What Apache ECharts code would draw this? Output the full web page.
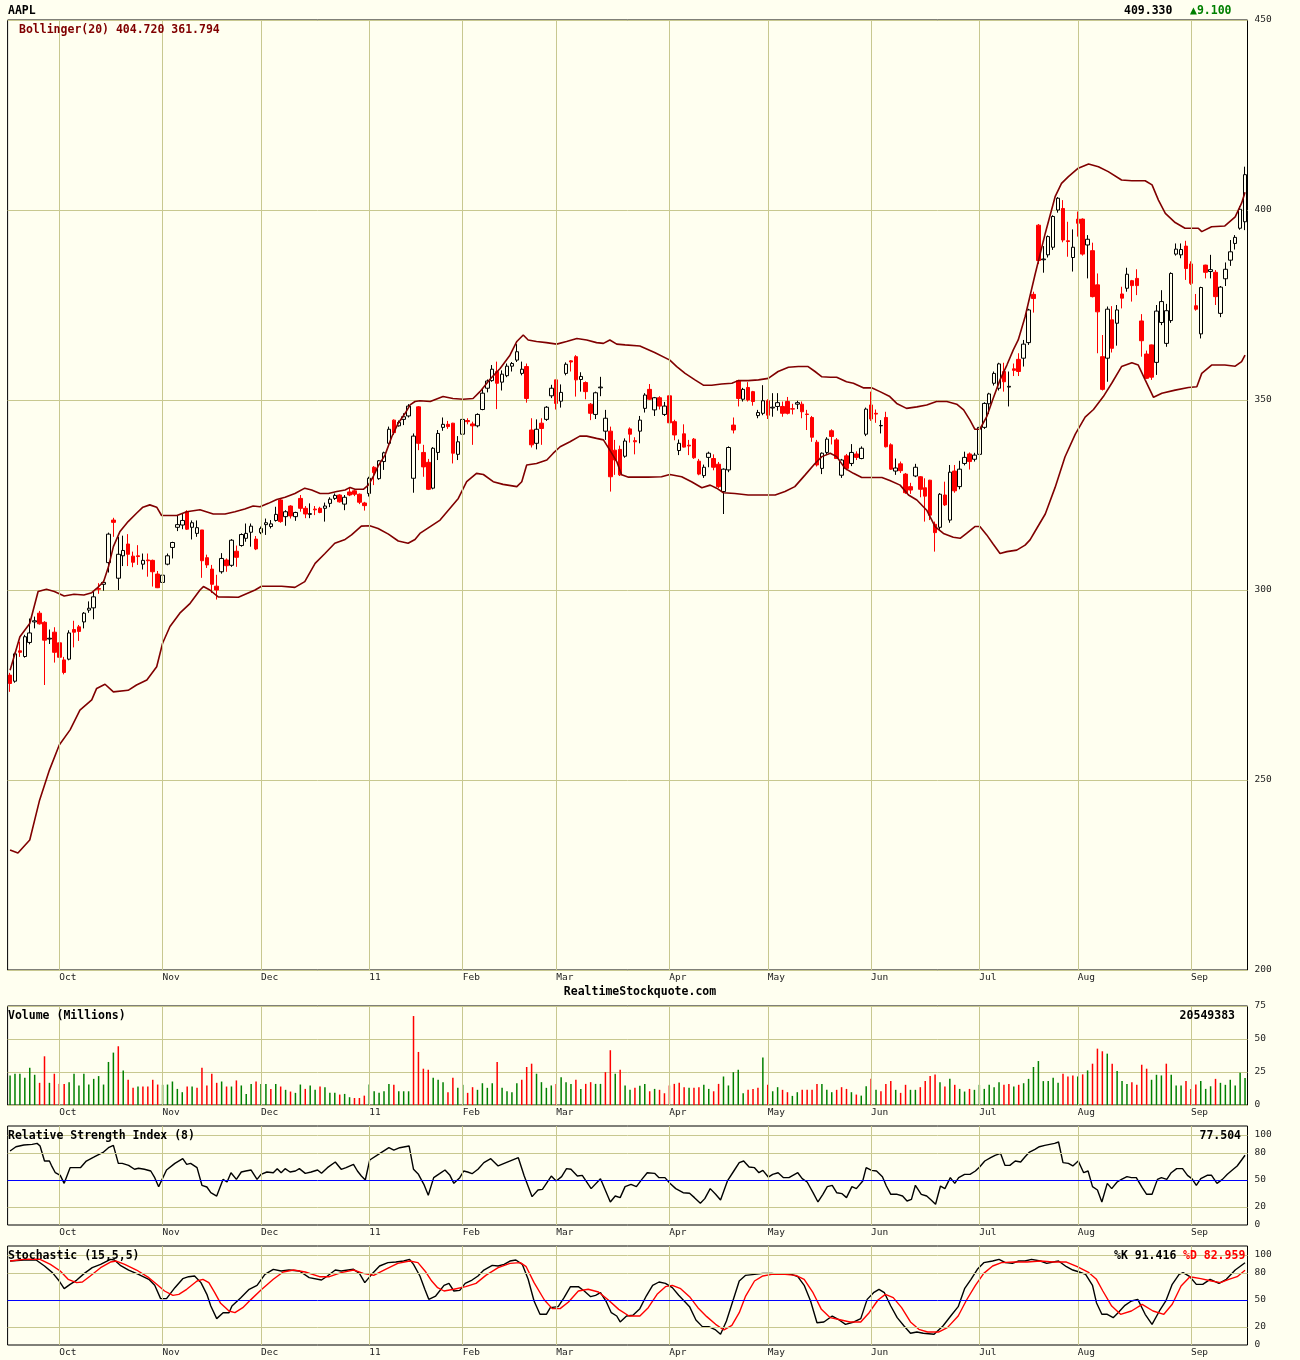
<!DOCTYPE html>
<html><head><meta charset="utf-8">
<script src="https://cdn.jsdelivr.net/npm/echarts@6/dist/echarts.min.js"></script>
<style>html,body{margin:0;padding:0;background:#fffff0}#c{width:1300px;height:1360px}</style>
</head><body><div id="c"></div>
<script>
// ---- tick labels (first trading day index of each month) ----
const monthIdx = [10,31,51,73,92,111,134,154,175,197,217,240];
const monthLbl = ['Oct','Nov','Dec','11','Feb','Mar','Apr','May','Jun','Jul','Aug','Sep'];

// ---- AAPL daily OHLC, Sep 17 2010 .. Sep 19 2011 ----
const opens = [
277.6,276.0,284.0,282.5,286.2,291.6,293.9,291.5,287.1,288.9,
286.1,281.6,281.8,289.6,290.3,291.6,294.7,295.3,300.4,301.5,307.2,318.4,303.1,309.0,312.1,308.9,309.0,306.8,307.9,307.8,304.2,
302.0,306.8,311.2,316.5,317.1,320.6,316.5,314.9,315.8,308.5,305.5,301.0,304.8,307.9,306.5,310.2,311.7,313.6,315.2,313.4,
315.1,317.2,316.7,318.3,323.7,319.3,322.1,319.3,324.1,321.5,319.9,321.3,321.5,321.5,322.8,324.1,325.0,322.6,325.8,326.1,325.2,322.9,
325.4,332.3,329.3,333.8,338.6,344.7,343.2,344.9,345.8,329.4,348.2,336.2,333.6,326.8,336.2,342.8,343.6,343.9,335.7,
341.0,344.6,343.7,343.2,347.5,353.1,355.1,357.5,354.7,356.4,358.9,360.5,357.0,358.8,342.1,338.6,343.9,344.9,351.1,
355.3,349.7,357.0,360.3,361.4,355.4,354.6,348.9,346.2,353.2,341.8,341.8,336.8,337.0,335.2,342.4,339.3,341.8,347.8,352.8,347.4,350.6,346.2,
351.1,344.3,336.7,341.1,338.1,339.7,333.9,330.1,334.9,334.6,333.1,325.9,331.6,343.4,355.1,350.2,353.3,352.2,345.9,346.5,
349.8,347.9,348.3,348.3,349.6,347.7,348.9,348.9,346.3,345.4,338.9,332.0,336.2,341.9,339.5,330.2,335.3,333.3,335.8,334.6,341.0,
348.7,346.5,343.2,345.4,338.2,331.3,333.2,330.5,327.2,330.0,329.8,326.9,328.9,317.3,316.5,325.0,318.4,331.3,327.2,333.3,335.8,334.4,
335.7,342.8,349.0,354.4,353.1,357.5,353.4,358.2,360.7,361.0,365.1,377.8,396.0,386.9,388.2,390.2,400.0,400.4,391.9,387.5,
397.6,397.6,390.8,389.3,380.3,361.4,361.0,371.1,370.2,377.9,379.4,381.4,382.0,370.8,362.1,364.5,359.9,370.4,364.9,370.9,388.4,388.2,390.5,
385.8,374.8,367.4,385.5,383.8,383.6,372.8,381.9,386.8,391.2,395.2,396.9];
const highs = [
278.2,283.5,286.4,288.2,292.5,293.0,294.5,291.8,289.6,290.2,
286.6,282.4,289.4,291.9,290.8,294.2,297.0,299.6,301.8,302.5,315.1,319.0,314.0,314.3,314.7,310.1,311.8,309.6,309.6,308.0,305.0,
305.4,309.6,312.7,319.7,320.2,321.0,318.3,318.3,315.8,309.3,306.6,304.0,309.7,308.3,313.4,311.7,314.9,317.5,317.5,314.2,
316.7,318.8,318.4,321.9,324.1,321.0,322.3,320.6,325.0,322.1,322.8,322.1,321.9,323.0,324.4,325.4,325.2,325.0,327.0,326.3,325.4,323.2,
329.8,332.6,334.2,336.4,343.0,344.9,344.6,346.5,348.9,341.2,348.4,338.2,334.5,337.6,342.1,345.4,344.5,344.0,340.5,
345.4,345.2,344.3,346.5,353.1,355.4,359.2,360.1,357.8,359.6,360.0,364.7,360.1,359.6,345.2,344.9,345.2,348.4,354.0,
355.3,354.1,359.9,360.5,361.8,357.3,354.9,349.2,352.2,356.1,347.4,343.0,339.5,338.0,339.9,342.8,340.2,345.8,351.8,354.2,350.8,351.0,349.5,
351.2,344.8,339.6,343.6,339.5,340.0,334.5,333.0,336.4,335.7,333.7,332.0,337.8,345.4,355.3,353.2,354.7,352.4,347.4,353.9,
350.2,351.8,351.8,349.6,350.8,349.0,349.8,349.6,347.4,345.8,339.5,336.2,340.2,342.3,340.0,334.5,335.8,338.4,336.5,337.8,348.0,
352.2,347.5,344.7,346.9,338.6,334.6,333.8,330.8,328.2,333.2,330.0,329.4,329.0,318.0,325.5,328.5,332.9,332.9,334.0,336.4,336.2,336.1,
343.0,349.4,351.9,357.5,359.8,359.8,357.5,359.6,362.3,365.8,374.0,378.5,396.3,390.5,393.3,398.6,403.4,402.6,396.9,394.9,
399.6,397.8,393.4,391.4,383.3,367.1,374.6,374.7,375.0,379.8,384.8,381.6,384.4,372.6,363.0,364.6,375.0,378.9,375.3,383.6,391.2,391.2,391.9,
386.5,377.9,379.8,385.6,388.2,384.2,380.0,386.2,392.1,393.4,401.0,411.4];
const lows = [
273.2,275.6,282.4,282.2,285.7,289.9,290.9,275.0,285.8,280.9,
281.4,277.8,281.5,284.9,286.6,289.9,294.0,292.3,299.0,299.8,304.6,314.0,300.0,306.3,306.3,306.0,306.6,305.4,303.5,300.9,300.5,
300.9,306.5,308.3,315.5,316.0,315.8,313.3,314.0,303.2,305.8,299.2,297.5,304.3,304.8,306.1,306.1,311.4,312.7,311.4,310.5,
314.7,314.5,316.2,318.0,317.7,316.9,318.8,318.2,320.6,318.9,318.9,319.7,320.2,318.0,321.8,323.7,323.0,321.0,324.7,324.7,322.6,320.9,
324.6,327.6,329.0,331.6,338.2,340.8,343.0,343.4,345.4,325.6,336.8,329.8,326.3,326.5,334.2,341.9,342.4,333.3,334.2,
340.6,343.6,338.2,342.8,347.3,352.0,354.8,347.6,352.5,356.0,357.5,360.0,356.5,349.3,337.5,337.0,338.2,344.5,350.5,
347.5,348.0,356.5,357.5,350.9,352.2,350.2,344.7,345.0,351.0,339.5,325.9,330.3,330.0,334.8,338.8,335.7,338.6,346.7,350.0,345.8,347.5,345.8,
342.7,339.4,335.5,337.5,335.5,334.5,330.2,329.5,332.3,331.5,326.8,320.0,331.0,341.2,348.3,349.6,349.6,348.5,345.2,346.0,
345.0,345.6,347.2,345.6,346.2,346.2,347.6,345.2,342.1,339.0,332.5,330.5,335.5,338.3,334.5,329.5,331.5,332.6,334.2,334.4,340.5,
344.5,344.0,341.2,337.5,331.6,330.3,330.8,325.3,325.3,329.7,324.4,318.0,318.4,310.1,315.6,322.1,317.7,325.6,326.5,332.8,331.7,333.8,
335.2,342.4,346.3,353.8,352.5,352.2,348.3,356.3,356.3,358.8,364.5,373.0,385.8,383.5,387.5,389.5,399.3,391.5,387.7,383.8,
393.0,388.0,382.0,377.0,362.3,352.5,354.8,362.5,364.3,374.1,378.5,375.9,377.6,361.4,355.5,355.3,356.6,369.7,364.0,370.3,388.0,387.3,381.6,
380.3,373.5,366.2,382.0,382.0,375.0,371.8,380.0,385.3,389.6,394.8,394.7];
const closes = [
275.4,283.2,283.6,287.7,288.7,291.9,291.1,286.8,287.3,283.6,
282.3,278.3,288.7,288.9,289.1,293.9,295.2,298.2,300.2,302.0,314.7,317.8,309.4,310.4,309.4,307.3,308.8,307.8,307.7,304.8,300.6,
303.9,309.0,312.5,317.2,318.3,316.0,317.7,316.4,307.7,306.6,301.5,300.0,308.3,306.4,313.1,308.6,314.6,314.9,316.8,310.8,
316.2,317.7,317.4,319.9,318.0,320.6,319.5,320.4,321.5,320.0,320.1,321.1,320.4,322.1,323.9,324.9,323.2,324.4,325.0,325.2,323.1,322.2,
329.4,330.9,334.0,336.1,342.3,341.4,344.1,345.6,348.4,340.5,338.6,332.4,326.5,337.3,341.2,343.6,343.0,336.0,339.0,
344.9,344.3,343.2,346.2,351.8,355.0,358.1,354.4,356.8,358.9,359.6,362.7,358.1,350.4,338.2,342.3,342.5,348.1,353.1,
349.1,352.0,359.4,360.0,355.3,356.2,352.2,346.5,351.9,353.4,345.2,329.8,334.2,330.3,339.2,341.0,339.0,344.7,351.3,350.2,350.6,348.4,348.4,
344.0,340.8,338.6,337.6,337.9,334.8,330.5,332.3,336.0,332.3,327.2,331.8,337.5,342.1,350.4,352.8,350.0,349.6,346.7,349.8,
346.0,348.1,349.3,346.5,346.5,347.6,349.3,346.9,346.2,340.2,332.9,336.0,339.7,340.4,334.6,334.2,332.0,336.2,334.9,337.3,347.6,
345.0,346.3,343.3,337.7,331.8,332.1,331.4,325.6,326.3,332.3,326.5,324.7,319.7,315.1,325.2,322.4,331.0,326.1,331.8,334.9,333.8,335.5,
342.8,349.1,351.6,357.0,359.5,354.8,353.6,357.8,357.5,364.7,373.7,376.7,386.7,387.1,393.0,398.3,403.1,392.1,391.7,390.2,
396.5,388.4,392.3,377.2,373.2,352.8,373.9,363.6,373.7,376.8,383.1,380.1,380.1,365.6,355.7,356.0,373.4,375.9,373.5,383.3,389.7,389.6,384.6,
380.7,373.9,379.6,383.6,384.3,377.2,379.7,384.4,389.0,392.8,400.2,409.3];

// ---- volume (millions) and its up/down colouring ----
const volumes = [
22.4,23.7,23.7,20.6,28.2,22.9,16.8,36.9,16.8,23.7,16.0,16.0,17.3,23.7,14.8,23.7,15.5,19.8,21.9,15.5,
32.6,39.7,44.5,26.2,19.1,13.0,14.0,14.0,14.0,19.1,15.5,15.3,15.5,17.8,12.2,9.7,14.0,14.0,13.0,28.2,
14.8,23.7,16.8,17.8,14.0,14.0,18.6,14.8,8.4,16.0,17.8,16.0,16.0,12.2,16.0,14.0,11.5,10.2,9.2,15.5,
12.2,14.8,11.5,14.0,13.5,9.2,9.2,7.9,8.4,5.9,5.3,5.3,7.1,15.5,10.4,9.2,10.4,16.0,15.3,10.4,
10.4,10.4,67.4,40.2,27.5,26.7,20.6,19.1,17.3,9.7,20.6,13.0,15.3,9.2,13.5,11.5,16.5,13.0,16.5,32.6,
13.0,10.4,9.7,16.5,19.1,28.8,31.3,23.7,17.3,13.0,14.8,16.0,21.1,17.3,16.0,19.1,12.2,16.0,17.3,16.0,
16.0,24.9,41.5,23.7,26.7,14.8,11.5,13.0,14.5,16.0,10.4,12.2,11.5,8.9,14.8,16.0,16.8,13.5,13.0,13.0,
13.5,15.3,12.2,10.4,16.0,21.6,14.8,24.9,26.7,8.9,11.5,12.2,13.0,35.9,15.3,10.4,13.5,11.5,9.7,6.9,
9.7,11.5,11.5,11.5,16.0,16.0,11.5,9.7,11.5,13.5,12.2,9.7,7.9,7.1,14.2,19.8,11.5,10.4,16.0,18.1,
11.5,9.2,15.3,11.5,11.5,13.5,18.1,21.9,23.2,17.3,14.0,19.8,15.3,12.2,10.2,12.2,11.5,15.3,12.2,15.3,
13.5,17.3,15.3,16.0,14.0,15.3,16.5,19.8,28.8,33.3,18.1,18.1,20.6,16.8,23.7,21.6,22.4,21.6,23.2,26.2,
31.3,42.7,40.7,38.9,31.3,25.7,18.1,16.0,17.3,15.3,30.5,27.5,19.1,22.9,22.4,31.3,22.9,14.8,14.8,18.1,
12.2,15.5,18.1,12.2,14.2,19.8,16.8,15.3,19.1,14.8,24.4,20.5];
const volDir = ('ggggggrrgr'+'rrgggggggg'+'ggrgrrgrrr'+'rgggggrgrr'+'rrrgrgrggg'+'rggrgrgrgg'+
  'rggrgggrgg'+'rrrgggggrg'+'ggrrrrgggr'+'rggrrggggr'+'ggggrrrggg'+'grgggrgrrg'+'grrgrggrgg'+
  'rgrrrrrrgr'+'rggrrggggg'+'rrrgrggrrg'+'grrrrgggrr'+'rgrggrgrrr'+'grrggrrrrg'+'rgrggrgggg'+
  'ggrrgrgggg'+'ggggrrrgrg'+'rrrgrgggrr'+'rrgggrgggr'+'rrgggrgggggg').split('');

// ---- Bollinger(20) bands: [day index, price] ----
const bbUpper = [[0,278.9],[2,287.7],[4,291.2],[5.7,299.6],[7.4,300.2],[9,299.6],[11,298.4],[13,298.9],[15,298.7],[16.6,299.3],[17.6,300.4],[19,302.2],[20,306.1],[21,311.4],[22.3,315.3],[24,318.0],[25.7,320.2],[27,321.8],[28.4,322.4],[29.8,321.8],[30.8,319.6],[33.9,319.6],[35.9,320.6],[38.6,321.1],[41.3,320.0],[43.7,320.0],[45.7,320.6],[47.7,321.3],[49.4,322.1],[50.8,321.9],[52.5,322.8],[54.2,323.8],[55.9,324.4],[57.9,325.4],[59.9,326.8],[61.3,326.3],[63,325.4],[64.7,325.4],[66.4,325.9],[68.1,326.3],[69.1,327.0],[70.1,326.5],[71.8,326.5],[72.8,327.6],[73.8,329.8],[74.8,332.6],[76.2,335.5],[77.6,340.4],[78.9,343.9],[80.3,346.5],[81.3,348.7],[82.3,349.6],[83.3,349.8],[85.4,349.6],[88,350.9],[90,350.4],[92.1,350.2],[94.1,350.4],[95.5,352.2],[97.5,355.4],[99.6,358.3],[101.6,361.8],[103,365.4],[104.3,367.1],[105.3,365.8],[107,365.4],[109,365.1],[111.1,364.7],[113.1,365.4],[115.2,366.2],[117.2,365.8],[119.2,365.1],[120.6,364.9],[121.9,365.8],[123.3,364.7],[125,364.5],[128,364.2],[131,362.5],[134.1,360.5],[135.5,358.8],[137.2,357.0],[139.2,355.3],[140.9,353.9],[142.6,353.9],[144.6,354.2],[146.7,354.4],[148,355.1],[150,355.1],[152.1,355.3],[154.1,355.7],[156.1,357.5],[158.2,358.6],[160.2,358.8],[162.2,358.8],[163.6,357.5],[165,356.1],[166.7,356.0],[168,356.0],[170,354.8],[171.4,354.4],[173.4,353.2],[175.1,353.2],[176.8,352.2],[178.8,350.9],[180.2,349.1],[182.2,347.8],[184.3,348.2],[186.3,348.7],[188.3,349.6],[190.4,349.6],[192.4,348.9],[193.8,347.4],[195.1,344.7],[196.1,342.3],[197.1,342.3],[198.5,345.6],[199.8,350.4],[201.2,355.3],[202.6,359.2],[203.9,363.2],[204.9,365.8],[206.3,371.9],[208.3,382.9],[210.4,393.9],[212.4,403.5],[213.7,407.0],[215.1,408.8],[217.1,411.0],[219.2,412.1],[221.2,411.4],[223.2,410.1],[225.9,407.9],[228,407.7],[230.7,407.7],[232.1,406.6],[233.4,402.6],[234.8,399.1],[236.8,396.7],[238.8,395.2],[241.5,395.2],[242.2,394.3],[244.2,395.6],[246.9,395.8],[249,398.2],[250.3,401.8],[251,404.7]];
const bbLower = [[0,231.6],[1.6,230.8],[4,234.2],[6,244.7],[8,252.6],[10,259.2],[12.2,263.2],[14.2,268.4],[16.6,271.1],[17.6,274.1],[19.3,275.2],[21,273.2],[24,273.6],[25.7,275.0],[27.8,276.3],[29.8,279.8],[31,286],[32.5,290.4],[34.5,293.9],[36.6,296.5],[38.6,300],[39.3,300.9],[40.6,300],[42.3,298.2],[46.4,298.1],[49.8,300],[51.1,301.0],[55.2,301.0],[57.9,300.7],[59.9,302.2],[62,307.0],[64,309.6],[66,312.3],[68.1,313.3],[69.4,314.5],[71.4,316.8],[73.1,316.9],[74.8,316.2],[76.9,314.7],[78.9,312.9],[80.9,312.3],[82.3,313.3],[83.3,314.9],[87.4,318.4],[91.1,324.1],[92.8,328.5],[94.8,330.7],[96.2,330.4],[98.2,328.5],[100.2,327.8],[103,327.2],[104,328.5],[105,332.9],[107,333.3],[109.1,334.2],[110.4,336.0],[111.8,337.7],[113.8,339.0],[115.8,340.5],[117.2,340.5],[119.2,339.9],[120.6,339.5],[121.9,336.8],[123.3,333.8],[124.3,330.3],[125.7,329.7],[127,329.7],[129.7,329.7],[132.4,329.8],[134.1,330.4],[136.5,329.8],[138.5,328.5],[140.6,326.9],[142.3,327.6],[143.6,326.8],[145,325.6],[147.3,325.4],[150,325.0],[152.8,325.0],[155.5,325.0],[157.5,325.9],[159.5,327.2],[161.6,330.3],[163.6,333.3],[165,335.1],[166.7,336.0],[168,335.1],[169.7,332.0],[171.4,330.7],[173.1,329.6],[177.2,329.6],[178.8,328.8],[180.9,327.6],[182.6,325.0],[184.3,323.7],[186.3,321.0],[188,316.7],[189.7,314.9],[191.7,313.9],[193.1,313.6],[194.4,314.9],[196.1,316.7],[197.1,316.7],[198.5,314.5],[199.8,312.1],[201.2,309.6],[202.6,310.1],[204.6,310.5],[206.3,311.8],[207.3,313.2],[208.3,315.4],[210.4,320.0],[212.4,327.0],[214.4,335.0],[216.5,341.0],[218.5,345.5],[220.2,347.5],[222.2,350.9],[223.9,354.4],[225.9,358.8],[228,359.8],[229.3,359.2],[230.7,355.3],[232.4,350.7],[234.1,351.8],[236.8,352.6],[239.5,353.3],[241.2,353.5],[242.2,357.0],[244.2,359.2],[246.9,359.2],[249,358.9],[250.3,360.1],[251,361.8]];

// ---- RSI(8) ----
const rsi = [[0,82.2],[1.2,87.0],[2.8,88.9],[4.5,89.6],[5.5,90.7],[6.1,87.8],[7,71.1],[8,71.1],[8.4,66.3],[9.2,58.1],[10.2,55.2],[11,46.3],[12.2,63.7],[14.3,63.7],[15.5,71.1],[17.1,75.6],[19,81.1],[20,85.9],[21,88.5],[21.4,88.5],[22,68.5],[22.8,68.5],[24.1,66.3],[25.3,61.9],[26.1,63.0],[27.3,61.9],[28.6,60.0],[29.4,52.6],[30.2,42.6],[31.8,61.1],[33.5,68.5],[35.1,73.7],[35.9,67.4],[36.7,68.5],[38,63.7],[39,44.1],[40,42.2],[40.8,35.9],[42,32.2],[43.3,50.7],[44.1,47.8],[44.9,58.1],[46,50.7],[47,58.9],[47.9,60.0],[49,61.1],[50.2,50.7],[51,56.3],[52.2,58.9],[53.5,58.1],[54.3,62.6],[55.1,58.1],[55.9,62.6],[56.9,58.9],[58,60.0],[58.8,62.6],[60,57.4],[61.2,58.9],[62.5,61.1],[63.3,57.4],[64.5,63.7],[66.1,70.0],[67.3,61.9],[68.3,63.7],[69.8,67.4],[70.6,60.0],[71.4,54.4],[72.2,50.0],[73.1,72.2],[75.1,79.3],[77,85.9],[78,83.3],[79.2,85.9],[80,86.7],[81.1,87.8],[82,61.9],[83,56.3],[84.1,45.2],[85,33.0],[86.1,52.6],[87.3,57.0],[88.4,61.1],[89.4,55.2],[90.2,46.3],[91.4,52.6],[92.2,60.0],[93,58.9],[93.9,57.0],[95.1,61.9],[96.3,69.3],[97.7,73.7],[99.2,65.6],[100.8,69.3],[103.3,74.8],[104.5,54.4],[106.1,31.5],[107.3,38.9],[108.2,39.6],[110,54.4],[111,48.9],[112.1,53.7],[113.1,62.6],[114,61.9],[115.3,54.4],[116.3,55.2],[118.1,40.4],[120,51.5],[122,25.6],[123,32.2],[124,30.4],[125,42.6],[126.2,45.2],[127.3,42.6],[128.4,50.7],[129.5,58.1],[131,57.4],[131.9,52.6],[133.1,52.6],[134.1,46.3],[135.3,40.4],[136.8,35.9],[138.1,35.2],[139.1,30.4],[140.3,24.1],[141.2,29.3],[142.3,40.4],[143.4,34.1],[144.4,27.8],[145.8,48.9],[147.1,60.0],[148.2,69.3],[149.1,71.1],[150.2,64.4],[151.3,63.7],[152.2,58.1],[153,60.7],[154.1,53.3],[155,56.3],[156.1,58.1],[157.2,52.6],[158.3,52.6],[160.1,58.1],[161,51.5],[162,47.8],[163.2,35.9],[164.2,25.6],[165.2,34.1],[166.1,42.6],[167.1,44.1],[168,35.9],[169.1,34.8],[170,30.4],[171.1,42.6],[172,40.4],[173.3,48.9],[174,63.7],[175.1,60.7],[176.1,60.0],[177.3,53.7],[178.1,43.3],[179,34.1],[180.3,34.1],[181.4,32.2],[182.3,26.7],[183.2,28.5],[184,44.1],[185.2,34.1],[186.3,32.2],[187.2,27.8],[188.1,23.0],[189.1,43.3],[190,40.4],[191.1,52.6],[192,46.3],[192.8,52.6],[194,56.3],[195.1,56.3],[196.2,60.0],[197.1,64.8],[198.1,71.1],[199.3,74.8],[200.2,77.4],[201.3,79.6],[202.2,66.3],[203.2,66.3],[204.3,71.1],[205.4,70.0],[206.3,75.9],[207.2,81.1],[208.3,84.1],[209.2,87.0],[210.3,88.5],[211.3,89.6],[212.3,90.7],[213.1,92.2],[214,69.3],[215.1,68.5],[216,65.6],[217.1,71.1],[218.2,58.1],[219.1,60.0],[220,42.6],[221,38.9],[221.9,25.6],[223,46.3],[223.9,40.4],[225,47.8],[225.9,50.7],[227,53.7],[227.9,52.6],[228.9,52.6],[230.1,41.5],[231,34.1],[232.1,34.1],[233.2,50.7],[234,52.6],[235.1,50.7],[236,58.1],[237.1,62.6],[238.3,62.6],[239.3,55.2],[240.2,51.5],[241.1,44.1],[242,51.5],[243.3,55.2],[244.2,55.2],[245.3,46.3],[246.4,50.7],[247.4,56.3],[248.6,61.9],[249.4,65.6],[250.3,72.2],[251,77.5]];

// ---- Stochastic(15,5,5) %K and %D ----
const stochK = [[0,93.3],[2.8,94.4],[5.3,94.4],[7,87.8],[8.6,80.4],[10,71.1],[11,62.6],[12.2,67.4],[13.5,71.9],[15.1,79.6],[16.7,85.9],[18.4,89.6],[20.4,95.2],[21.2,94.4],[22.4,88.5],[24.1,83.3],[26.1,78.5],[28.2,73.0],[29.4,66.3],[30.6,51.5],[31.8,51.5],[33.5,63.7],[35.1,73.7],[36.3,75.9],[37.5,76.7],[38.8,69.3],[40,56.3],[40.8,43.3],[42,29.3],[43.3,35.9],[44.5,35.9],[45.1,43.3],[46.9,52.6],[48.6,61.9],[50.2,66.3],[51.8,78.5],[53.5,84.1],[55.1,82.2],[56.7,83.3],[58.8,82.2],[60.8,74.8],[63.3,72.2],[64.5,76.7],[66.1,83.3],[67.3,82.2],[69.8,84.1],[71,79.6],[72.1,69.3],[73.5,78.5],[75.1,87.8],[76.8,91.5],[78.4,92.2],[80,93.3],[81.2,95.2],[82,89.6],[83.3,76.7],[84.3,61.9],[85.1,50.7],[86.5,54.4],[88.2,66.3],[89.2,68.5],[90.2,60.0],[91.4,60.7],[92.5,68.5],[93.9,72.2],[95.1,76.7],[96.3,83.3],[98,88.5],[99.2,87.8],[100.4,89.6],[101.6,93.3],[102.8,94.4],[104.1,89.6],[105.3,73.0],[106.5,48.9],[107.7,34.1],[109,34.1],[109.8,41.5],[111.4,42.6],[112.6,52.6],[113.9,64.8],[115.5,64.8],[116.7,60.0],[118,53.7],[119,55.2],[120,58.1],[121.2,47.8],[122.2,35.9],[123.3,32.2],[124,25.6],[125.3,32.2],[126.6,33.0],[128,40.4],[129.3,54.4],[130.6,66.3],[131.9,70.0],[133.2,68.5],[134.6,63.7],[135.9,55.2],[137.2,47.8],[138.1,42.6],[139.4,27.8],[140.7,20.4],[142,20.4],[143.4,16.7],[144.4,11.9],[145.6,26.7],[146.9,48.9],[148.2,71.1],[149.5,77.4],[151.3,78.5],[153,79.6],[154.8,79.6],[156.6,78.5],[158.8,78.5],[160.1,75.9],[161.4,66.3],[162.7,48.9],[164,24.8],[165.4,25.6],[167.1,32.2],[168.5,27.8],[169.8,23.0],[171.5,25.6],[172.9,29.3],[174.2,50.7],[175.5,58.1],[176.6,61.9],[177.7,58.1],[179,43.3],[180.3,30.4],[181.7,21.1],[183,13.0],[184.3,14.4],[185.6,13.0],[187.8,11.9],[189.6,21.1],[191.3,33.0],[192.7,42.6],[194,62.6],[195.3,73.0],[196.6,84.1],[197.9,91.5],[199.7,93.3],[201,95.2],[202.3,91.5],[203.7,90.7],[205,93.3],[206.3,93.3],[207.6,95.2],[209.4,93.3],[210.7,90.7],[212,92.2],[213.1,93.3],[214.7,87.0],[216,83.3],[217.3,81.1],[218.6,78.5],[220,66.3],[220.8,47.0],[221.9,34.1],[223,34.1],[224.2,30.4],[225.2,35.9],[226.6,44.1],[227.9,48.9],[229.2,50.7],[230.7,34.1],[232.1,23.0],[233.6,37.8],[234.9,48.9],[236.2,67.4],[237.6,78.5],[238.4,80.4],[239.8,75.9],[241.1,67.4],[242.4,67.4],[243.9,73.0],[245.7,68.5],[247.2,73.0],[249,83.3],[251,91.4]];
const stochD = [[0,93.3],[2.8,95.2],[6.1,95.2],[8.2,89.6],[10.2,82.2],[11.8,73.0],[13.5,69.3],[14.7,70.0],[16.3,76.7],[18.4,85.9],[20.4,92.2],[21.6,93.3],[23.3,89.6],[25.7,83.3],[28.2,74.8],[29.8,67.4],[31.4,60.0],[33.1,55.2],[34.3,56.3],[35.9,61.9],[38,71.1],[39.2,73.0],[40.4,69.3],[41.6,58.1],[42.8,46.3],[44.5,37.8],[45.7,35.9],[47.3,41.5],[49,50.7],[51,61.1],[53.5,73.0],[55.5,81.1],[57.6,83.3],[60,81.1],[62.9,75.9],[64.9,75.9],[67.3,80.4],[69.8,83.3],[71.8,79.6],[73.9,77.4],[76.3,84.1],[78.8,90.7],[81.2,93.3],[82.9,91.5],[84.5,81.1],[85.7,71.1],[86.9,63.7],[88.2,60.0],[90.2,61.9],[92.6,64.8],[94.7,68.5],[96.7,77.4],[99.2,85.9],[101.6,90.7],[103.7,91.5],[104.9,87.0],[106.5,69.3],[108.6,50.0],[110.2,40.4],[111.8,40.4],[113.5,47.8],[115.5,60.0],[117.5,61.9],[119.6,58.9],[121.6,50.0],[123.7,39.6],[125.8,32.2],[128,32.2],[129.7,41.5],[131.5,56.3],[133.2,64.8],[134.6,66.3],[136.3,62.6],[138.1,53.7],[139.8,41.5],[141.6,31.5],[143.4,23.0],[145.1,16.7],[146.7,21.9],[148.2,35.9],[149.5,54.4],[151.3,71.1],[153,76.7],[154.8,78.5],[157.5,78.5],[159.7,77.4],[161.4,73.0],[163.2,58.1],[164.9,39.6],[166.7,30.4],[168.9,27.8],[170.7,25.6],[172.9,25.6],[174.6,35.9],[176.4,50.0],[177.9,56.3],[179.5,52.6],[181.2,41.5],[183,25.6],[184.7,17.4],[186.5,14.4],[188.7,14.4],[190.5,19.3],[192.7,32.2],[194.4,50.0],[196.2,66.3],[197.9,79.6],[199.7,87.8],[201.5,91.5],[204.1,92.2],[206.7,92.2],[209.4,93.3],[212,92.2],[214.7,92.2],[216.9,87.0],[219.1,81.1],[220.8,73.0],[222.1,60.0],[223.9,43.3],[225.7,34.1],[227.9,37.8],[230.1,45.2],[232.3,37.8],[234.5,34.1],[236.2,45.2],[238,65.6],[239.8,75.9],[242,73.7],[244.2,71.1],[246,69.3],[247.7,73.0],[249.4,75.9],[251,83.0]];

const oscLabels = [0,20,50,80,100];

// ---------------- chart ----------------
const N = closes.length;
const cats = closes.map((_, i) => String(i));
const candles = closes.map((c, i) => [opens[i], c, lows[i], highs[i]]);
const BG = '#fffff0', KHAKI = '#c8c890', MAROON = '#800000';
const MONO = '"DejaVu Sans Mono", monospace';
const L = 7.6, W = 1239.9;
const tops = [20, 1006, 1126, 1246], heights = [950, 99, 99, 99];

const grid = tops.map((t, g) => ({left: L, width: W, top: t, height: heights[g], show: true,
  borderColor: '#000', borderWidth: 1, backgroundColor: BG}));

const xAxis = [];
for (let g = 0; g < 4; g++) {
  xAxis.push({type: 'category', gridIndex: g, data: cats, boundaryGap: true,
    axisLine: {show: false}, axisTick: {show: false}, splitLine: {show: false},
    axisLabel: {interval: (idx) => monthIdx.includes(idx),
      formatter: (v, idx) => { const k = monthIdx.indexOf(Number(v)); return k >= 0 ? monthLbl[k] : ''; },
      align: 'left', margin: 3, fontFamily: MONO, fontSize: 9.5, color: '#222'}});
  xAxis.push({type: 'value', gridIndex: g, min: -0.5, max: N - 0.5, show: false});
}
const yLabel = {margin: 7, fontFamily: MONO, fontSize: 9.5, color: '#222'};
const yAxis = [
  {type: 'value', gridIndex: 0, position: 'right', min: 200, max: 450, interval: 50,
    axisLine: {show: false}, axisTick: {show: false}, splitLine: {show: true, lineStyle: {color: KHAKI, width: 1}}, axisLabel: yLabel},
  {type: 'value', gridIndex: 1, position: 'right', min: 0, max: 75, interval: 25,
    axisLine: {show: false}, axisTick: {show: false}, splitLine: {show: true, lineStyle: {color: KHAKI, width: 1}}, axisLabel: yLabel},
  {type: 'value', gridIndex: 2, position: 'right', min: 0, max: 110, interval: 10,
    axisLine: {show: false}, axisTick: {show: false}, splitLine: {show: false},
    axisLabel: Object.assign({}, yLabel, {formatter: v => oscLabels.includes(v) ? String(v) : ''})},
  {type: 'value', gridIndex: 3, position: 'right', min: 0, max: 110, interval: 10,
    axisLine: {show: false}, axisTick: {show: false}, splitLine: {show: false},
    axisLabel: Object.assign({}, yLabel, {formatter: v => oscLabels.includes(v) ? String(v) : ''})}
];

function helper(g, extra) {
  const data = monthIdx.map(i => ({xAxis: i, lineStyle: {color: KHAKI, width: 1, type: 'solid'}})).concat(extra || []);
  return {type: 'line', xAxisIndex: 2 * g + 1, yAxisIndex: g, data: [[-0.5, yAxis[g].min]], showSymbol: false,
    lineStyle: {opacity: 0}, silent: true, z: 1,
    markLine: {symbol: ['none', 'none'], silent: true, label: {show: false}, animation: false, data: data}};
}
const oscLines = [20, 80, 100].map(v => ({yAxis: v, lineStyle: {color: KHAKI, width: 1, type: 'solid'}}))
  .concat([{yAxis: 50, lineStyle: {color: '#0000ff', width: 1, type: 'solid'}}]);

function lineSeries(g, data, color, width) {
  return {type: 'line', xAxisIndex: 2 * g + 1, yAxisIndex: g, data: data, showSymbol: false, symbol: 'none',
    lineStyle: {color: color, width: width}, silent: true, z: 4};
}

const series = [
  helper(0),
  {type: 'candlestick', xAxisIndex: 0, yAxisIndex: 0, data: candles, barWidth: 4, z: 3, silent: true,
    itemStyle: {color: BG, color0: '#ff0000', borderColor: '#000', borderColor0: '#ff0000', borderWidth: 1}},
  lineSeries(0, bbUpper, MAROON, 1.6),
  lineSeries(0, bbLower, MAROON, 1.6),
  helper(1),
  {type: 'bar', xAxisIndex: 2, yAxisIndex: 1, barWidth: 1.5, z: 3, silent: true,
    data: volumes.map((v, i) => ({value: v, itemStyle: {color: volDir[i] === 'g' ? '#008000' : '#ff0000'}}))},
  helper(2, oscLines),
  lineSeries(2, rsi, '#000', 1.4),
  helper(3, oscLines),
  lineSeries(3, stochK, '#000', 1.4),
  lineSeries(3, stochD, '#ff0000', 1.4)
];

const TF = 'bold 11.5px ' + MONO;
function txt(x, y, s, fill, align) {
  return {type: 'text', x: x, y: y, z: 100, silent: true,
    style: {text: s, font: TF, fill: fill || '#000', align: align || 'left', verticalAlign: 'middle'}};
}
const graphic = [
  txt(8, 11, 'AAPL'),
  txt(1124, 11, '409.330'),
  txt(1190, 11, '\u25B29.100', '#008000'),
  txt(19, 30, 'Bollinger(20) 404.720 361.794', MAROON),
  txt(640, 992, 'RealtimeStockquote.com', '#000', 'center'),
  txt(8, 1016, 'Volume (Millions)'),
  txt(1235, 1016, '20549383', '#000', 'right'),
  txt(8, 1136, 'Relative Strength Index (8)'),
  txt(1241, 1136, '77.504', '#000', 'right'),
  txt(8, 1256, 'Stochastic (15,5,5)'),
  txt(1114, 1256, '%K 91.416'),
  txt(1183, 1256, '%D 82.959', '#ff0000')
];

const chart = echarts.init(document.getElementById('c'), null, {renderer: 'canvas'});
chart.setOption({backgroundColor: BG, animation: false, grid, xAxis, yAxis, series, graphic});
</script></body></html>
